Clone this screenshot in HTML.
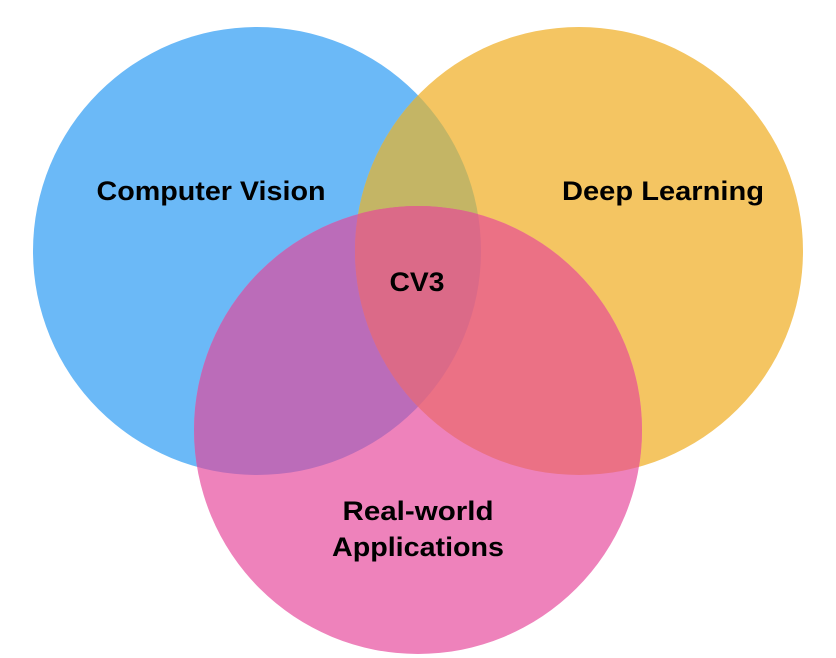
<!DOCTYPE html>
<html><head><style>html,body{margin:0;padding:0;background:#fff;width:836px;height:658px;overflow:hidden}</style></head>
<body>
<svg width="836" height="658" viewBox="0 0 836 658" xmlns="http://www.w3.org/2000/svg">
<defs>
<clipPath id="cb"><circle cx="257" cy="251" r="224"/></clipPath>
<clipPath id="co"><circle cx="579" cy="251" r="224"/></clipPath>
<clipPath id="cp"><circle cx="418" cy="430" r="224"/></clipPath>
</defs>
<circle cx="257" cy="251" r="224" fill="#6BB9F7"/>
<circle cx="579" cy="251" r="224" fill="#F4C562"/>
<circle cx="418" cy="430" r="224" fill="#EE82BB"/>
<g clip-path="url(#cb)"><circle cx="579" cy="251" r="224" fill="#C4B565"/></g>
<g clip-path="url(#cb)"><circle cx="418" cy="430" r="224" fill="#BB6CB9"/></g>
<g clip-path="url(#co)"><circle cx="418" cy="430" r="224" fill="#EB7185"/></g>
<g clip-path="url(#cb)"><g clip-path="url(#co)"><circle cx="418" cy="430" r="224" fill="#DB6A88"/></g></g>
<g font-family="Liberation Sans, Arial, sans-serif" font-weight="bold" font-size="27" fill="#000" text-anchor="middle">
<text x="211" y="200" textLength="229" lengthAdjust="spacingAndGlyphs">Computer Vision</text>
<text x="663" y="200" textLength="202" lengthAdjust="spacingAndGlyphs">Deep Learning</text>
<text x="417" y="291" textLength="55" lengthAdjust="spacingAndGlyphs">CV3</text>
<text x="418" y="520" textLength="151" lengthAdjust="spacingAndGlyphs">Real-world</text>
<text x="418" y="556" textLength="172" lengthAdjust="spacingAndGlyphs">Applications</text>
</g>
</svg>
</body></html>
